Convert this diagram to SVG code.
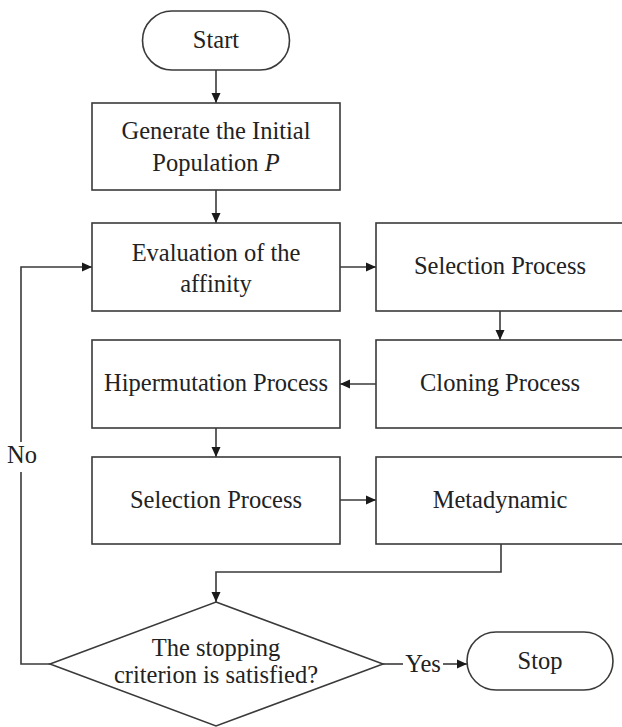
<svg xmlns="http://www.w3.org/2000/svg" width="622" height="727" viewBox="0 0 622 727">
<defs>
<style>
.box{fill:#fff;stroke:#3a3a3a;stroke-width:1.6}
.t{font-family:'Liberation Serif','Times New Roman',serif;font-size:24.5px;fill:#222;text-anchor:middle}
.c{fill:none;stroke:#3a3a3a;stroke-width:1.6}
</style>
<marker id="ah" viewBox="0 0 10 10" refX="10" refY="5" markerWidth="10" markerHeight="10" markerUnits="userSpaceOnUse" orient="auto">
<path d="M0,0.5 L10,5 L0,9.5 Z" fill="#1a1a1a"/>
</marker>
</defs>
<rect width="622" height="727" fill="#fff"/>
<g id="connectors">
<path class="c" d="M216,70 V103" marker-end="url(#ah)"/>
<path class="c" d="M216,190 V223" marker-end="url(#ah)"/>
<path class="c" d="M340,267 H376" marker-end="url(#ah)"/>
<path class="c" d="M500,311 V340" marker-end="url(#ah)"/>
<path class="c" d="M376,384 H340" marker-end="url(#ah)"/>
<path class="c" d="M216,428 V457" marker-end="url(#ah)"/>
<path class="c" d="M340,500 H376" marker-end="url(#ah)"/>
<path class="c" d="M501,544 V572 H216 V602" marker-end="url(#ah)"/>
<path class="c" d="M50,664 H21 V472"/>
<path class="c" d="M21,442 V267 H92" marker-end="url(#ah)"/>
<path class="c" d="M383,664 H403"/>
<path class="c" d="M443,664 H467" marker-end="url(#ah)"/>
<text class="t" x="22" y="463">No</text>
<text class="t" x="423" y="672">Yes</text>
</g>
<g id="start">
<rect class="box" x="142.5" y="11" width="147" height="59" rx="29.5"/>
<text class="t" x="216" y="48">Start</text>
</g>
<g id="generate">
<rect class="box" x="92" y="103" width="248" height="87"/>
<text class="t" x="216" y="139">Generate the Initial</text>
<text class="t" x="216" y="171">Population <tspan font-style="italic">P</tspan></text>
</g>
<g id="evaluation">
<rect class="box" x="92" y="223" width="248" height="88"/>
<text class="t" x="216" y="261">Evaluation of the</text>
<text class="t" x="216" y="292">affinity</text>
</g>
<g id="selection1">
<rect class="box" x="376" y="223" width="248" height="88"/>
<text class="t" x="500" y="274">Selection Process</text>
</g>
<g id="cloning">
<rect class="box" x="376" y="340" width="248" height="88"/>
<text class="t" x="500" y="391">Cloning Process</text>
</g>
<g id="hipermutation">
<rect class="box" x="92" y="340" width="248" height="88"/>
<text class="t" x="216" y="391">Hipermutation Process</text>
</g>
<g id="selection2">
<rect class="box" x="92" y="457" width="248" height="87"/>
<text class="t" x="216" y="508">Selection Process</text>
</g>
<g id="metadynamic">
<rect class="box" x="376" y="457" width="248" height="87"/>
<text class="t" x="500" y="508">Metadynamic</text>
</g>
<g id="decision">
<polygon class="box" points="216,602 383,664 216,726 50,664"/>
<text class="t" x="216" y="656">The stopping</text>
<text class="t" x="216" y="683">criterion is satisfied?</text>
</g>
<g id="stop">
<rect class="box" x="467" y="632" width="146" height="58" rx="29"/>
<text class="t" x="540" y="669">Stop</text>
</g>
</svg>
